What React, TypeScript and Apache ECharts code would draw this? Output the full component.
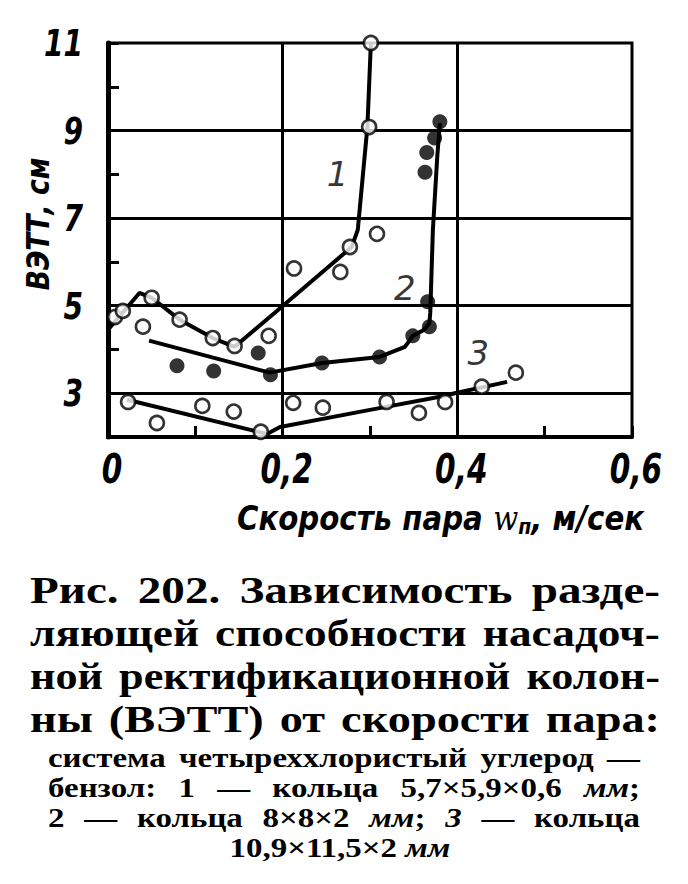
import React, { useEffect, useRef } from 'react';
import * as echarts from 'echarts';

// ---- data ----
const xLabelTicks = [0, 0.2, 0.4, 0.6];
const yLabelTicks = [3, 5, 7, 9, 11];
const xGridValues = [0.2, 0.4];
const yGridValues = [3, 5, 7, 9];

// curve 1: rings 5.7x5.9x0.6 mm (open circles)
const points1 = [
  [0.008, 4.74], [0.017, 4.88], [0.040, 4.52], [0.050, 5.18], [0.082, 4.68],
  [0.120, 4.26], [0.145, 4.08], [0.184, 4.31], [0.213, 5.85], [0.266, 5.77],
  [0.277, 6.34], [0.308, 6.64], [0.299, 9.08], [0.301, 11.0],
];
const line1 = [
  [0.000, 4.45], [0.036, 5.29], [0.050, 5.18], [0.082, 4.68], [0.120, 4.26],
  [0.145, 4.06], [0.191, 4.84], [0.279, 6.34], [0.286, 6.73], [0.297, 9.08], [0.301, 11.0],
];

// curve 2: rings 8x8x2 mm (filled circles)
const points2 = [
  [0.079, 3.63], [0.121, 3.51], [0.172, 3.92], [0.186, 3.42], [0.245, 3.69],
  [0.311, 3.83], [0.349, 4.31], [0.368, 4.52], [0.366, 5.09], [0.363, 8.05],
  [0.365, 8.50], [0.374, 8.83], [0.380, 9.20],
];
const line2 = [
  [0.047, 4.20], [0.185, 3.47], [0.245, 3.69], [0.311, 3.83], [0.340, 4.06],
  [0.349, 4.31], [0.362, 4.45], [0.368, 4.60], [0.369, 4.84], [0.372, 6.73],
  [0.377, 8.40], [0.380, 9.17],
];

// curve 3: rings 10.9x11.5x2 mm (open circles)
const points3 = [
  [0.023, 2.80], [0.056, 2.32], [0.108, 2.71], [0.144, 2.58], [0.175, 2.12],
  [0.212, 2.78], [0.246, 2.67], [0.319, 2.80], [0.356, 2.55], [0.386, 2.80],
  [0.428, 3.15], [0.467, 3.47],
];
const line3 = [
  [0.022, 2.85], [0.182, 2.07], [0.197, 2.23], [0.300, 2.62], [0.380, 2.92],
  [0.397, 3.00], [0.457, 3.26],
];

const curveLabels = [
  [0.263, 8.0, '1'],
  [0.340, 5.4, '2'],
  [0.424, 3.92, '3'],
];

const yAxisTitle = 'ВЭТТ, см';
const xAxisTitle = 'Скорость пара {w|w}{s|п}, м/сек';

const captionLarge = [
  'Рис. 202. Зависимость разде-',
  'ляющей способности насадоч-',
  'ной ректификационной колон-',
  'ны (ВЭТТ) от скорости пара:',
];
const captionSmall = [
  'система четыреххлористый углерод —',
  'бензол: 1 — кольца 5,7×5,9×0,6 *мм*;',
  '2 — кольца 8×8×2 *мм*; *3* — кольца',
  '10,9×11,5×2 *мм*',
];

// ---- styles ----
const SANS = "'DejaVu Sans', 'Liberation Sans', sans-serif";
const SERIF = "'Liberation Serif', 'DejaVu Serif', serif";

const GRID = { left: 108, top: 43, width: 524, height: 394 };

function buildCaption(): any[] {
  const canvas = document.createElement('canvas');
  const ctx = canvas.getContext('2d') as CanvasRenderingContext2D;
  const els: any[] = [];
  const doLines = (
    lines: string[], size: number, maxSx: number, minGap: number, left: number, right: number,
    y0: number, pitch: number, centerLast: boolean, centerX: number,
  ) => {
    const fontN = `bold ${size}px ${SERIF}`;
    const fontI = `italic bold ${size}px ${SERIF}`;
    lines.forEach((line, li) => {
      const words = line.split(' ').filter(Boolean);
      const parsed = words.map((w) => {
        const segs = w.split('*');
        let width = 0;
        const parts: { s: string; it: boolean }[] = [];
        segs.forEach((s, i) => {
          if (!s) return;
          const it = i % 2 === 1;
          ctx.font = it ? fontI : fontN;
          width += ctx.measureText(s).width;
          parts.push({ s, it });
        });
        return { width, parts };
      });
      const natural = parsed.reduce((a, p) => a + p.width, 0);
      const n = parsed.length;
      const isLast = li === lines.length - 1;
      const avail = right - left;
      const sx = centerLast && isLast
        ? maxSx
        : Math.min(maxSx, (avail - minGap * (n - 1)) / natural);
      const total = natural * sx;
      const y = y0 + li * pitch;
      let x: number;
      let gap: number;
      if (centerLast && isLast) {
        ctx.font = fontN;
        gap = ctx.measureText(' ').width * sx;
        const w = total + gap * (n - 1);
        x = centerX - w / 2;
      } else {
        gap = n > 1 ? (avail - total) / (n - 1) : 0;
        x = left;
      }
      parsed.forEach((p) => {
        const plain = p.parts.length === 1 && !p.parts[0].it;
        const style: any = plain
          ? {
              text: p.parts[0].s,
              fontFamily: SERIF,
              fontWeight: 'bold',
              fontSize: size,
            }
          : {
              text: p.parts.map((q) => `{${q.it ? 'i' : 'n'}|${q.s}}`).join(''),
              rich: {
                n: { fontFamily: SERIF, fontWeight: 'bold', fontSize: size, fill: '#000' },
                i: { fontFamily: SERIF, fontWeight: 'bold', fontStyle: 'italic', fontSize: size, fill: '#000' },
              },
            };
        els.push({
          type: 'text',
          x,
          y,
          scaleX: sx,
          silent: true,
          style: { ...style, align: 'left', verticalAlign: 'middle', fill: '#000' },
        });
        x += p.width * sx + gap;
      });
    });
  };
  doLines(captionLarge, 38, 1.24, 16, 30, 660, 590, 43, false, 0);
  doLines(captionSmall, 27, 1.22, 11, 48, 640, 758, 30, true, 340);
  return els;
}

const fmtX = (v: number) => (v === 0 ? '0' : String(v).replace('.', ','));

export default function App() {
  const ref = useRef<HTMLDivElement>(null);

  useEffect(() => {
    document.body.style.margin = '0';
    if (!ref.current) return;
    const chart = echarts.init(ref.current, undefined, { renderer: 'svg' });

    const openCircle = {
      color: '#fff',
      borderColor: '#000',
      borderWidth: 2.6,
    };
    const lineStyle = { color: '#000', width: 4 };

    const markLineData = [
      ...yGridValues.map((v) => ({ yAxis: v })),
      ...xGridValues.map((v) => ({ xAxis: v })),
    ];

    const option: any = {
      animation: false,
      backgroundColor: '#fff',
      grid: {
        ...GRID,
        show: true,
        borderColor: '#000',
        borderWidth: 3,
        backgroundColor: 'transparent',
      },
      xAxis: {
        type: 'value',
        min: 0,
        max: 0.6,
        interval: 0.1,
        axisLine: { show: true, onZero: false, lineStyle: { color: '#000', width: 4 } },
        axisTick: { show: true, inside: true, length: 11, lineStyle: { color: '#000', width: 3 } },
        splitLine: { show: false },
        axisLabel: { show: false },
      },
      yAxis: {
        type: 'value',
        min: 2,
        max: 11,
        interval: 1,
        axisLine: { show: true, onZero: false, lineStyle: { color: '#000', width: 5 } },
        axisTick: { show: true, inside: true, length: 11, lineStyle: { color: '#000', width: 3 } },
        splitLine: { show: false },
        axisLabel: { show: false },
      },
      series: [
        {
          type: 'line',
          data: [],
          silent: true,
          z: 1,
          markLine: {
            silent: true,
            symbol: ['none', 'none'],
            label: { show: false },
            lineStyle: { color: '#000', width: 3, type: 'solid' },
            data: markLineData,
          },
        },
        { type: 'line', data: line1, showSymbol: false, symbol: 'none', lineStyle, z: 3, silent: true },
        { type: 'line', data: line2, showSymbol: false, symbol: 'none', lineStyle, z: 3, silent: true },
        { type: 'line', data: line3, showSymbol: false, symbol: 'none', lineStyle, z: 3, silent: true },
        { type: 'scatter', data: points1, symbol: 'circle', symbolSize: 14, itemStyle: openCircle, z: 5, silent: true },
        { type: 'scatter', data: points2, symbol: 'circle', symbolSize: 15, itemStyle: { color: '#000' }, z: 5, silent: true },
        { type: 'scatter', data: points3, symbol: 'circle', symbolSize: 14, itemStyle: openCircle, z: 5, silent: true },
        {
          type: 'scatter',
          data: curveLabels,
          symbolSize: 0,
          silent: true,
          z: 6,
          label: {
            show: true,
            position: 'inside',
            formatter: (p: any) => p.data[2],
            color: '#000',
            fontFamily: SANS,
            fontStyle: 'italic',
            fontSize: 34,
          },
        },
      ],
    };
    chart.setOption(option);

    const tickText = (text: string, x: number, y: number, align: string, size: number) => ({
      type: 'text',
      x,
      y,
      scaleX: 0.74,
      silent: true,
      style: {
        text,
        align,
        verticalAlign: 'middle',
        fill: '#000',
        fontFamily: SANS,
        fontStyle: 'italic',
        fontWeight: 'bold',
        fontSize: size,
      },
    });

    const xTickEls = xLabelTicks.map((v) => {
      const [px, py] = chart.convertToPixel({ gridIndex: 0 }, [v, 2]) as number[];
      return tickText(fmtX(v), px + 4, py + 32, 'center', 40);
    });
    const yTickEls = yLabelTicks.map((v) => {
      const [px, py] = chart.convertToPixel({ gridIndex: 0 }, [0, v]) as number[];
      return tickText(String(v), px - 25, py, 'right', 38);
    });

    chart.setOption({
      graphic: [
        ...xTickEls,
        ...yTickEls,
        {
          type: 'text',
          x: 38,
          y: 224,
          rotation: Math.PI / 2,
          scaleX: 0.83,
          silent: true,
          style: {
            text: yAxisTitle,
            align: 'center',
            verticalAlign: 'middle',
            fill: '#000',
            fontFamily: SANS,
            fontStyle: 'italic',
            fontWeight: 'bold',
            fontSize: 32,
          },
        },
        {
          type: 'text',
          x: 237,
          y: 518,
          scaleX: 0.86,
          silent: true,
          style: {
            text: xAxisTitle,
            align: 'left',
            verticalAlign: 'middle',
            fill: '#000',
            fontFamily: SANS,
            fontStyle: 'italic',
            fontWeight: 'bold',
            fontSize: 34,
            rich: {
              w: { fontFamily: "'DejaVu Serif', serif", fontStyle: 'italic', fontSize: 34, fill: '#000' },
              s: { fontFamily: SANS, fontStyle: 'italic', fontWeight: 'bold', fontSize: 22, fill: '#000', padding: [16, 0, 0, 0], verticalAlign: 'bottom' },
            },
          },
        },
        ...buildCaption(),
      ],
    });
    return () => chart.dispose();
  }, []);

  return <div ref={ref} style={{ width: 688, height: 884 }} />;
}
